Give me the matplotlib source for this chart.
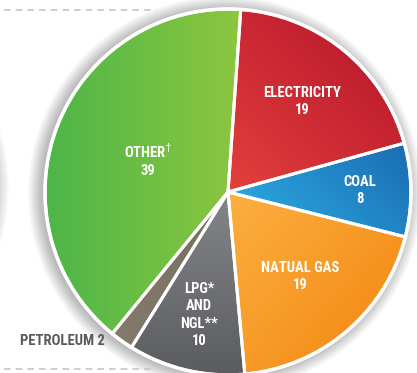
import numpy as np
import matplotlib
matplotlib.use("Agg")
import matplotlib.pyplot as plt
from matplotlib import font_manager as fm
from matplotlib.patches import Wedge, Circle
from matplotlib.colors import to_rgb

labels = ["ELECTRICITY\n19", "COAL\n8", "NATUAL GAS\n19", "LPG*\nAND\nNGL**\n10",
          "", "OTHER$^{\\dagger}$\n39"]
names = ["Electricity", "Coal", "Natural gas", "LPG and NGL", "Petroleum", "Other"]
values = [19, 8, 19, 10, 2, 39]
outside_label = "PETROLEUM 2"

# light / dark end of each wedge gradient and the direction it runs (degrees)
light = ["#e3403c", "#2aa6de", "#fbb040", "#85868a", "#857b6d", "#8dc63f"]
dark = ["#c01f2f", "#1b6db4", "#f6901c", "#5b5c5f", "#776d60", "#4cb648"]
grad_dir = [45, 45, -40, -90, 0, 180]
label_r = [0.64, 0.72, 0.61, 0.69, 0.0, 0.47]

W, H = 417, 373
cx, cy, R = 228, 181, 183


# a narrow bold face if one is installed, else plain DejaVu bold a bit smaller
def pick_font():
    narrow = [f for f in fm.fontManager.ttflist
              if ("Narrow" in f.name or "Condensed" in f.name or "condensed" in str(f.stretch))
              and f.weight in ("bold", 700, "heavy", 800) and "Italic" not in f.fname
              and "Oblique" not in f.fname]
    order = ["Liberation Sans Narrow", "Roboto Condensed", "DejaVu Sans"]
    narrow.sort(key=lambda f: next((i for i, n in enumerate(order) if f.name.startswith(n)), 9))
    if narrow:
        return fm.FontProperties(fname=narrow[0].fname, size=10.5)
    return fm.FontProperties(family="DejaVu Sans", weight="bold", size=9)


fp = pick_font()

fig = plt.figure(figsize=(W / 100, H / 100), dpi=100)
ax = fig.add_axes([0, 0, 1, 1])
ax.axis("off")

# soft shadow around the pie and the neighbouring one off the left edge
for k in range(14, 0, -1):
    ax.add_patch(Circle((cx - 3, cy - 1), R + k, color="black", alpha=0.018, lw=0, zorder=0))
    ax.add_patch(Circle((-188, 186), R + k, color="black", alpha=0.016, lw=0, zorder=0))

wedges, _ = ax.pie(values, colors=dark, startangle=86, counterclock=False,
                   center=(cx, cy), radius=R,
                   wedgeprops=dict(linewidth=0, zorder=1))


def gradient_fill(w, c1, c2, ang):
    th = np.radians(np.linspace(w.theta1, w.theta2, 60))
    px = np.concatenate([[cx], cx + R * np.cos(th)])
    py = np.concatenate([[cy], cy + R * np.sin(th)])
    d = np.array([np.cos(np.radians(ang)), np.sin(np.radians(ang))])
    proj = px * d[0] + py * d[1]
    xs = np.linspace(cx - R, cx + R, 200)
    ys = np.linspace(cy - R, cy + R, 200)
    X, Y = np.meshgrid(xs, ys)
    t = ((X * d[0] + Y * d[1]) - proj.min()) / (proj.max() - proj.min())
    t = np.clip(t, 0, 1)[..., None]
    img = (1 - t) * np.array(to_rgb(c1)) + t * np.array(to_rgb(c2))
    im = ax.imshow(img, extent=(cx - R, cx + R, cy - R, cy + R), origin="lower",
                   zorder=2, interpolation="bilinear")
    im.set_clip_path(w)


for w, c1, c2, a in zip(wedges, light, dark, grad_dir):
    gradient_fill(w, c1, c2, a)
    ax.add_patch(Wedge((cx, cy), R, w.theta1, w.theta2, fill=False,
                       edgecolor="white", linewidth=2.2, zorder=3))
ax.add_patch(Circle((cx, cy), R, fill=False, edgecolor="white", linewidth=2.5, zorder=3))

for w, lab, fr in zip(wedges, labels, label_r):
    if not lab:
        continue
    mid = np.radians((w.theta1 + w.theta2) / 2)
    ax.text(cx + fr * R * np.cos(mid), cy + fr * R * np.sin(mid), lab,
            ha="center", va="center", color="white", fontproperties=fp,
            linespacing=1.3, zorder=4)

pw = wedges[names.index("Petroleum")]
pm = np.radians((pw.theta1 + pw.theta2) / 2)
ax.annotate(outside_label, (cx + R * np.cos(pm), cy + R * np.sin(pm)),
            xytext=(-12, 0), textcoords="offset points", ha="right", va="center",
            color="#58595b", fontproperties=fp, zorder=4)

# dashed rules above and below
for y in (363, 4):
    ax.plot([4, 156], [y, y], color="#c6c6c6", lw=1.2, ls=(0, (4, 3)), zorder=0)

ax.set_xlim(0, W)
ax.set_ylim(0, H)
fig.savefig("out.png", dpi=100)
